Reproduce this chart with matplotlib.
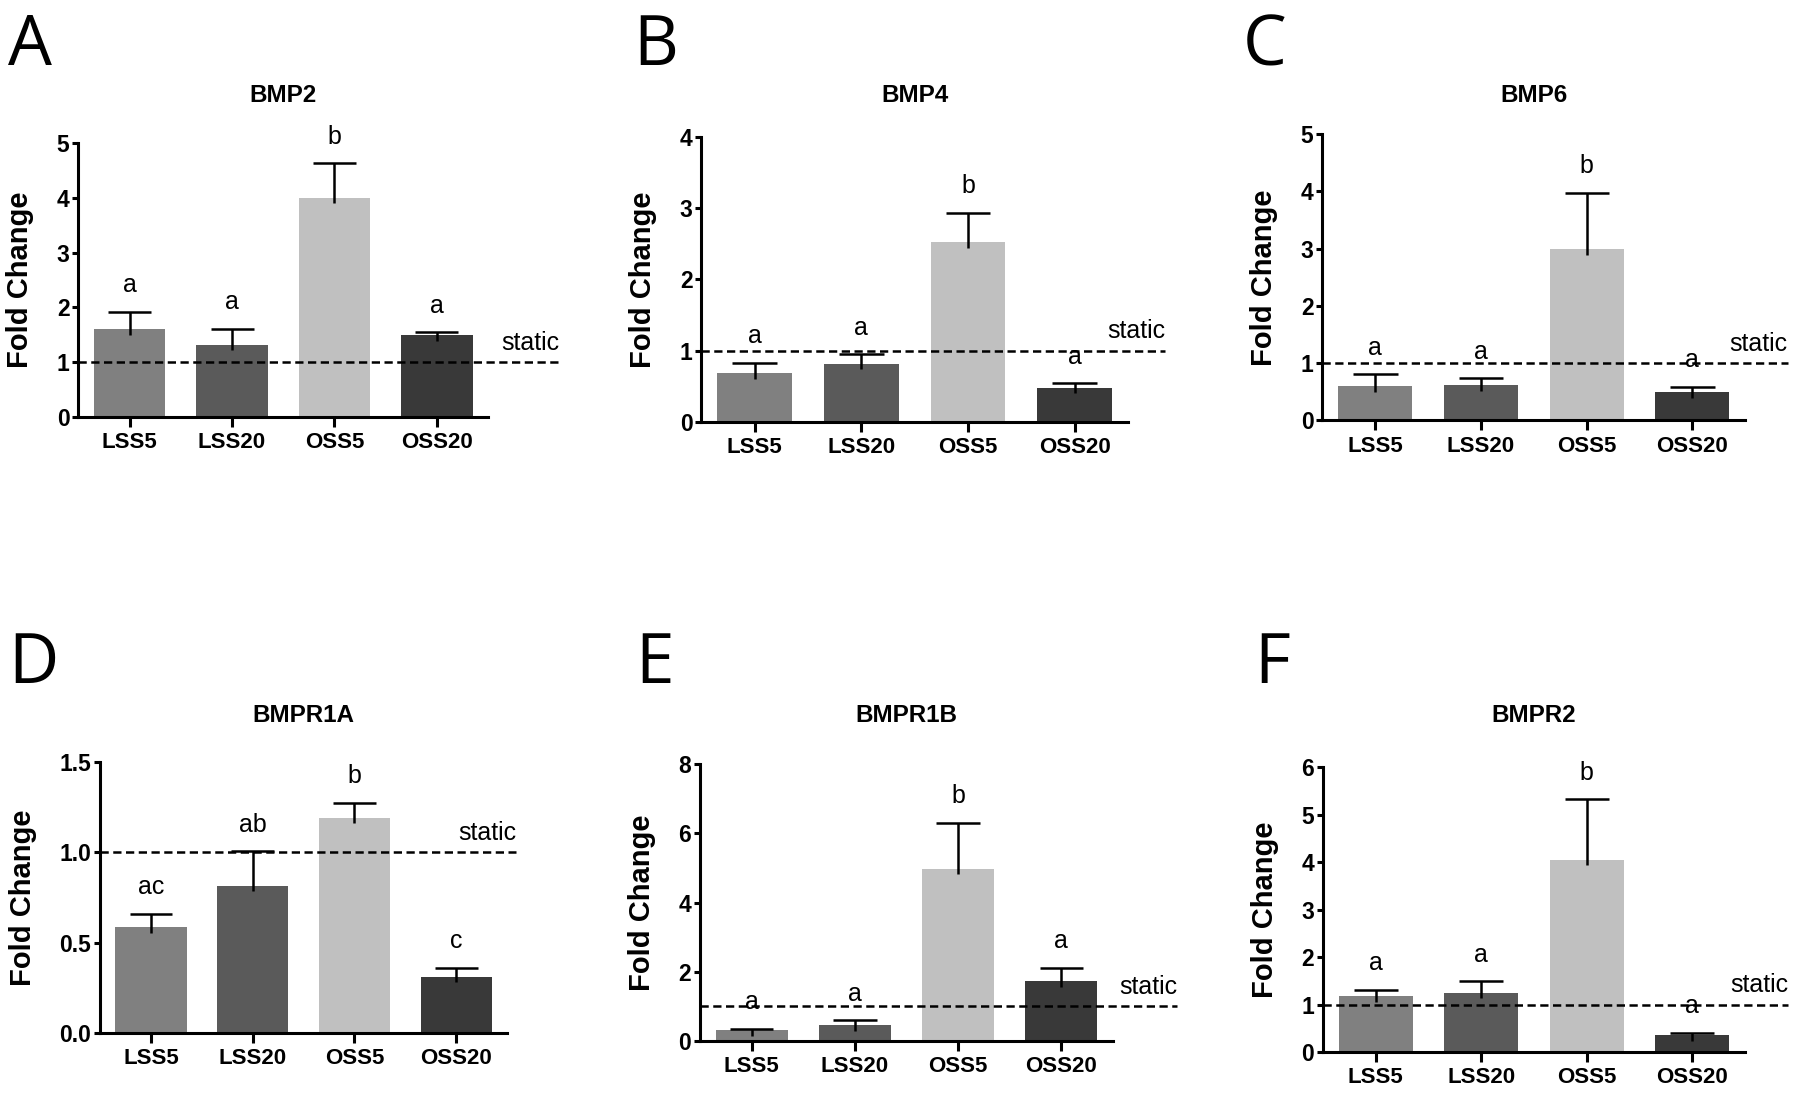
import numpy as np
import matplotlib.pyplot as plt

plt.rcParams['font.family'] = ['Liberation Sans', 'DejaVu Sans']

groups = ['LSS5', 'LSS20', 'OSS5', 'OSS20']
colors = ['#808080', '#5a5a5a', '#c0c0c0', '#393939']

genes = ['BMP2', 'BMP4', 'BMP6', 'BMPR1A', 'BMPR1B', 'BMPR2']
panel_tags = ['A', 'B', 'C', 'D', 'E', 'F']

# mean fold change and SEM (upper bar only) per gene
bmp2 = [1.60, 1.32, 4.00, 1.49]
bmp2_err = [0.32, 0.29, 0.63, 0.06]
bmp4 = [0.69, 0.82, 2.52, 0.48]
bmp4_err = [0.14, 0.13, 0.42, 0.06]
bmp6 = [0.60, 0.62, 2.99, 0.49]
bmp6_err = [0.21, 0.12, 0.99, 0.10]
bmpr1a = [0.585, 0.815, 1.19, 0.31]
bmpr1a_err = [0.075, 0.19, 0.085, 0.05]
bmpr1b = [0.31, 0.45, 4.98, 1.73]
bmpr1b_err = [0.05, 0.15, 1.32, 0.39]
bmpr2 = [1.17, 1.25, 4.05, 0.36]
bmpr2_err = [0.14, 0.24, 1.27, 0.05]

letters = [
    ['a', 'a', 'b', 'a'],
    ['a', 'a', 'b', 'a'],
    ['a', 'a', 'b', 'a'],
    ['ac', 'ab', 'b', 'c'],
    ['a', 'a', 'b', 'a'],
    ['a', 'a', 'b', 'a'],
]

y_max = [5, 4, 5, 1.5, 8, 6]
y_step = [1, 1, 1, 0.5, 2, 1]

means = [bmp2, bmp4, bmp6, bmpr1a, bmpr1b, bmpr2]
errs = [bmp2_err, bmp4_err, bmp6_err, bmpr1a_err, bmpr1b_err, bmpr2_err]

# layout (figure fractions) and how far the static line runs past the axis
axes_box = [
    [0.0436, 0.6195, 0.2275, 0.2500],
    [0.3897, 0.6150, 0.2370, 0.2600],
    [0.7347, 0.6165, 0.2349, 0.2610],
    [0.0556, 0.0575, 0.2261, 0.2473],
    [0.3889, 0.0502, 0.2294, 0.2527],
    [0.7350, 0.0401, 0.2344, 0.2600],
]
static_end = [4.2, 3.85, 3.9, 3.59, 4.12, 3.91]
tag_pos = [(8, 12), (633, 12), (1243, 12), (8, 630), (635, 630), (1254, 630)]

W, H = 1800, 1096
fig = plt.figure(figsize=(W / 100, H / 100), dpi=100)

x = np.arange(len(groups))
for i in range(6):
    ax = fig.add_axes(axes_box[i])
    m = np.array(means[i])
    e = np.array(errs[i])
    ax.bar(x, m, width=0.7, color=colors, zorder=2)
    # upper-only SEM bars, no cap at the mean
    ax.vlines(x, m - 0.02 * y_max[i], m + e, color='black', lw=1.8, zorder=3)
    ax.hlines(m + e, x - 0.21, x + 0.21, color='black', lw=1.8, zorder=3)
    for xi, top, lab in zip(x, m + e, letters[i]):
        ax.annotate(lab, (xi, top), xytext=(0, 14), textcoords='offset points',
                    ha='center', va='baseline', fontsize=18, annotation_clip=False)

    ax.plot([-0.5, static_end[i]], [1, 1], ls=(0, (3.3, 1.8)), color='black',
            lw=1.8, clip_on=False, zorder=4)
    ax.annotate('static', (static_end[i], 1), xytext=(0, 9), textcoords='offset points',
                ha='right', va='baseline', fontsize=18, annotation_clip=False)

    ax.set_xlim(-0.5, 3.5)
    ax.set_ylim(0, y_max[i])
    ticks = np.arange(0, y_max[i] + y_step[i] / 2, y_step[i])
    ax.set_yticks(ticks)
    if y_step[i] < 1:
        ax.set_yticklabels(['%.1f' % t for t in ticks])
    else:
        ax.set_yticklabels(['%d' % t for t in ticks])
    ax.set_xticks(x)
    ax.set_xticklabels(groups)

    for s in ['top', 'right']:
        ax.spines[s].set_visible(False)
    for s in ['left', 'bottom']:
        ax.spines[s].set_linewidth(2.2)
    ax.tick_params(axis='y', length=4.5, width=2.2, pad=2, labelsize=16.5)
    ax.tick_params(axis='x', length=7, width=2.2, pad=4, labelsize=16)
    for t in ax.get_xticklabels() + ax.get_yticklabels():
        t.set_fontweight('bold')
    ax.set_ylabel('Fold Change', fontsize=21, fontweight='bold', labelpad=16)

    cx = axes_box[i][0] + axes_box[i][2] / 2
    ty = (95 if i < 3 else 716)
    fig.text(cx, 1 - ty / H, genes[i], ha='center', va='center',
             fontsize=17.5, fontweight='bold')
    fig.text(tag_pos[i][0] / W, 1 - tag_pos[i][1] / H, panel_tags[i],
             ha='left', va='top', fontsize=50, family=['Open Sans', 'DejaVu Sans'])

fig.savefig('out.png', dpi=100)
